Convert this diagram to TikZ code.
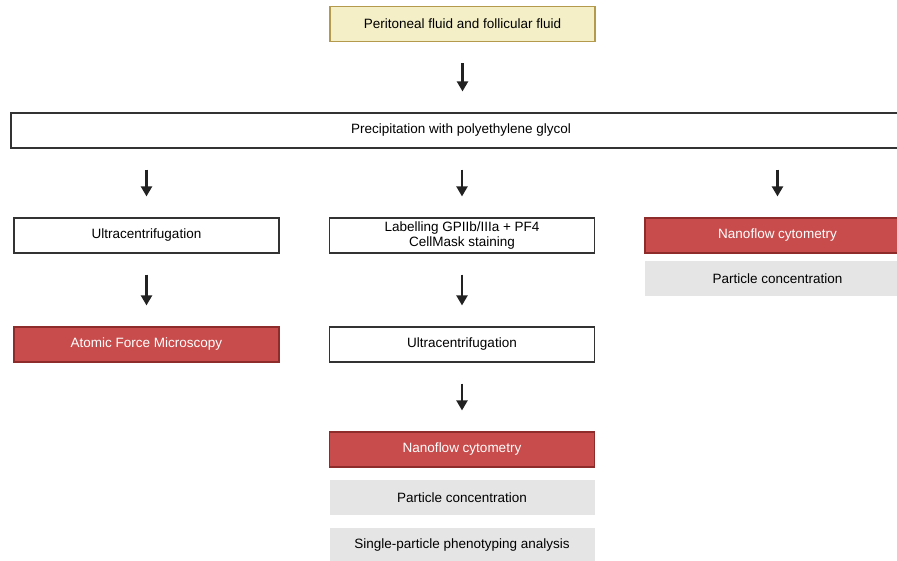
\documentclass[tikz,border=0pt]{standalone}
\usepackage{fontspec}
\setmainfont{Liberation Sans}
\usetikzlibrary{arrows.meta}
\definecolor{yfill}{HTML}{F4EFC6}
\definecolor{ydraw}{HTML}{B39A4C}
\definecolor{rfill}{HTML}{C94C4C}
\definecolor{rdraw}{HTML}{8E2B2B}
\definecolor{gfill}{HTML}{E5E5E5}
\definecolor{bdraw}{HTML}{333333}
\definecolor{arr}{HTML}{222222}
\begin{document}
\begin{tikzpicture}[x=1pt,y=-1pt,
  box/.style={rectangle, minimum width=265pt, minimum height=35pt, inner sep=0pt, align=center, font=\fontsize{13.5}{15}\selectfont},
  whitebox/.style={box, draw=bdraw, line width=1.2pt, fill=white},
  yellowbox/.style={box, draw=ydraw, line width=1.2pt, fill=yfill},
  redbox/.style={box, draw=rdraw, line width=1.2pt, fill=rfill, text=white},
  greybox/.style={box, fill=gfill},
  flow/.style={draw=arr, line width=2.2pt, -{Triangle[width=11pt,length=10pt]}, shorten <=21pt, shorten >=21pt}]
\useasboundingbox (0,0) rectangle (897,560);
\clip (0,0) rectangle (897,560);
\node[yellowbox] (src) at (462.5,24) {Peritoneal fluid and follicular fluid};
\node[whitebox, minimum width=900pt] (peg) at (461,130.5) {Precipitation with polyethylene glycol};
\node[whitebox] (uc1) at (146.5,235.5) {Ultracentrifugation};
\node[whitebox] (lab) at (462,235.5) {Labelling GPIIb/IIIa + PF4\\CellMask staining};
\node[redbox] (nfc1) at (777.5,235.5) {Nanoflow cytometry};
\node[greybox] (pc1) at (777.5,278.5) {Particle concentration};
\node[redbox] (afm) at (146.5,344.5) {Atomic Force Microscopy};
\node[whitebox] (uc2) at (462,344.5) {Ultracentrifugation};
\node[redbox] (nfc2) at (462,449.5) {Nanoflow cytometry};
\node[greybox] (pc2) at (462,497.5) {Particle concentration};
\node[greybox] (spa) at (462,545.5) {Single-particle phenotyping analysis};
\draw[flow] (src.south) -- (src.south |- peg.north);
\draw[flow] (uc1.north |- peg.south) -- (uc1.north);
\draw[flow] (lab.north |- peg.south) -- (lab.north);
\draw[flow] (nfc1.north |- peg.south) -- (nfc1.north);
\draw[flow] (uc1.south) -- (afm.north);
\draw[flow] (lab.south) -- (uc2.north);
\draw[flow] (uc2.south) -- (nfc2.north);
\end{tikzpicture}
\end{document}
